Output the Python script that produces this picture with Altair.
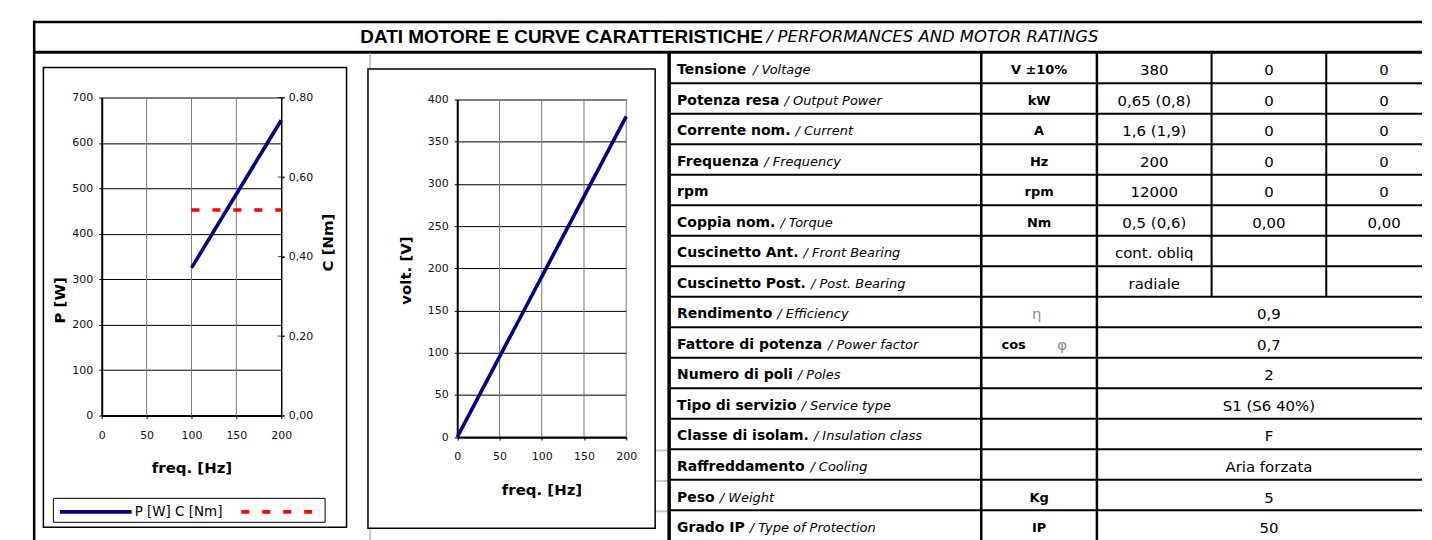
import altair as alt
import pandas as pd

# ------------------------------------------------------------------ data
P_FREQ = [100, 200]          # Hz
P_WATT = [325, 650]          # W
C_FREQ = [100, 200]          # Hz
C_NM = [0.517, 0.517]        # Nm
V_FREQ = [0, 200]            # Hz
V_VOLT = [0, 380]            # V

FREQ_TICKS = [0, 50, 100, 150, 200]
P_TICKS = [0, 100, 200, 300, 400, 500, 600, 700]
C_TICKS = [0.0, 0.2, 0.4, 0.6, 0.8]
V_TICKS = [0, 50, 100, 150, 200, 250, 300, 350, 400]

SERIES_NAMES = ["P [W]", "C [Nm]"]
T_FREQ = "freq. [Hz]"
T_P = "P [W]"
T_C = "C [Nm]"
T_V = "volt. [V]"

TITLE_IT = "DATI MOTORE E CURVE CARATTERISTICHE"
TITLE_EN = "/ PERFORMANCES AND MOTOR RATINGS"

LABEL_IT = ["Tensione", "Potenza resa", "Corrente nom.", "Frequenza", "rpm",
            "Coppia nom.", "Cuscinetto Ant.", "Cuscinetto Post.", "Rendimento",
            "Fattore di potenza", "Numero di poli", "Tipo di servizio",
            "Classe di isolam.", "Raffreddamento", "Peso", "Grado IP"]
LABEL_EN = ["/ Voltage", "/ Output Power", "/ Current", "/ Frequency", "",
            "/ Torque", "/ Front Bearing", "/ Post. Bearing", "/ Efficiency",
            "/ Power factor", "/ Poles", "/ Service type", "/ Insulation class",
            "/ Cooling", "/ Weight", "/ Type of Protection"]
UNIT_BOLD = ["V ±10%", "kW", "A", "Hz", "rpm", "Nm", "", "", "", "cos",
             "", "", "", "", "Kg", "IP"]
UNIT_SYMBOL = ["", "", "", "", "", "", "", "", "η", "φ",
               "", "", "", "", "", ""]
VAL_1 = ["380", "0,65 (0,8)", "1,6 (1,9)", "200", "12000", "0,5 (0,6)",
         "cont. obliq", "radiale"]
VAL_2 = ["0", "0", "0", "0", "0", "0,00", "", ""]
VAL_3 = ["0", "0", "0", "0", "0", "0,00", "", ""]
VAL_MERGED = ["0,9", "0,7", "2", "S1 (S6 40%)", "F", "Aria forzata", "5", "50"]

# ------------------------------------------------------------------ layout
H = 522
WL, WM, WT = 326, 305, 762
FONT = "DejaVu Sans"
NAVY = "#000080"
RED = "#ff0000"
GRID_V = "#7a7a7a"
ONE = pd.DataFrame({"k": [0]})

# DejaVu Sans Bold advance widths (em) used to place the italic half of labels
W_BOLD = {' ': .348, 'a': .675, 'b': .716, 'c': .593, 'd': .716, 'e': .678,
          'f': .435, 'g': .716, 'h': .712, 'i': .343, 'l': .343, 'm': 1.042,
          'n': .712, 'o': .687, 'p': .716, 'r': .493, 's': .595, 't': .478,
          'u': .712, 'v': .652, 'z': .582, 'A': .774, 'C': .734,
          'F': .683, 'G': .821, 'I': .372, 'N': .837, 'P': .733, 'R': .770,
          'T': .682, '.': .380}


def text_w(s, size):
    return sum(W_BOLD.get(ch, .68) for ch in s) * size


def hrule(x1, x2, y, w, color="black"):
    return alt.Chart(ONE).mark_rule(color=color, strokeWidth=w).encode(
        x=alt.value(x1), x2=alt.value(x2), y=alt.value(y))


def vrule(x, y1, y2, w, color="black"):
    return alt.Chart(ONE).mark_rule(color=color, strokeWidth=w).encode(
        x=alt.value(x), y=alt.value(y1), y2=alt.value(y2))


def box(x1, x2, y1, y2, w=1.5):
    return alt.Chart(ONE).mark_rect(filled=False, color="black", strokeWidth=w).encode(
        x=alt.value(x1), x2=alt.value(x2), y=alt.value(y1), y2=alt.value(y2))


def frame(width):
    return [hrule(0, width, 1.25, 2.5), hrule(0, width, 31.5, 3)]


AX = dict(labelFont=FONT, labelFontSize=11, labelColor="#111111",
          titleFont=FONT, titleFontSize=15, titleFontWeight="bold",
          titleColor="black", tickSize=3, tickColor="black",
          domainColor="black", labelFlush=False, labelOverlap=False)

comma2 = "replace(format(datum.value, '.2f'), '.', ',')"

# ------------------------------------------------------------------ panel L
xL = alt.Scale(domain=[0, 200], range=[69, 249], nice=False, zero=False)
yP = alt.Scale(domain=[0, 700], range=[396, 77], nice=False)
yC = alt.Scale(domain=[0, 0.8], range=[396, 77], nice=False)

x_axis_L = alt.Axis(values=FREQ_TICKS, orient="bottom", offset=396 - H,
                    title=T_FREQ, titleX=159, titleY=52, titleBaseline="middle",
                    grid=False, domainWidth=2, labelPadding=11, **AX)
y_axis_P = alt.Axis(values=P_TICKS, orient="left", offset=-69, title=T_P,
                    titleX=-42, titleY=280, titleAngle=270, titleBaseline="middle",
                    grid=True, gridColor="black", domainWidth=2, labelPadding=6, **AX)
y_axis_C = alt.Axis(values=C_TICKS, orient="right", offset=249 - WL, title=T_C,
                    titleX=46, titleY=222, titleAngle=270, titleBaseline="middle",
                    grid=False, domainWidth=1.5, labelPadding=4, labelExpr=comma2, **AX)

p_df = pd.DataFrame({"f": P_FREQ, "v": P_WATT})
c_df = pd.DataFrame({"f": C_FREQ, "v": C_NM})
gL_df = pd.DataFrame({"f": FREQ_TICKS[1:-1], "v": P_TICKS[0], "v2": P_TICKS[-1]})
cT_df = pd.DataFrame({"f": FREQ_TICKS[-1], "v": C_TICKS})

# vertical grid lines (share the power layer's y scale)
grid_L = alt.Chart(gL_df).mark_rule(color=GRID_V, strokeWidth=1).encode(
    x=alt.X("f:Q", scale=xL, axis=x_axis_L),
    y=alt.Y("v:Q", scale=yP, axis=y_axis_P), y2="v2:Q")

p_line = alt.Chart(p_df).mark_line(color=NAVY, strokeWidth=3.6).encode(
    x=alt.X("f:Q", scale=xL, axis=x_axis_L),
    y=alt.Y("v:Q", scale=yP, axis=y_axis_P))

c_line = alt.Chart(c_df).mark_line(color=RED, strokeWidth=3.6,
                                   strokeDash=[8, 13]).encode(
    x=alt.X("f:Q", scale=xL, axis=x_axis_L),
    y=alt.Y("v:Q", scale=yC, axis=y_axis_C))

# crossing tick marks on the secondary axis
c_ticks = alt.Chart(cT_df).mark_tick(color="black", orient="horizontal",
                                     size=7, thickness=1).encode(
    x=alt.X("f:Q", scale=xL, axis=x_axis_L),
    y=alt.Y("v:Q", scale=yC, axis=y_axis_C))

p_layer = alt.layer(grid_L, p_line)
c_layer = alt.layer(c_line, c_ticks)

legend_txt = alt.Chart(ONE).mark_text(
    text=" ".join(SERIES_NAMES), font=FONT, fontSize=13.5, align="left",
    baseline="middle", color="black").encode(x=alt.value(102), y=alt.value(492.5))

panel_L = alt.layer(
    *frame(WL),
    vrule(1.25, 0, H, 2.5),
    box(10.5, 314.5, 47, 508),
    p_layer, c_layer,
    box(20.5, 293, 479, 503, 1),
    hrule(27, 99, 492.5, 3.6, NAVY),
    alt.Chart(ONE).mark_rule(color=RED, strokeWidth=3.6, strokeDash=[8, 13]).encode(
        x=alt.value(209), x2=alt.value(280), y=alt.value(492.5)),
    legend_txt,
).resolve_scale(y="independent").properties(width=WL, height=H)

# ------------------------------------------------------------------ panel M
xM = alt.Scale(domain=[0, 200], range=[99.5, 269], nice=False, zero=False)
yV = alt.Scale(domain=[0, 400], range=[417.5, 79], nice=False)
v_df = pd.DataFrame({"f": V_FREQ, "v": V_VOLT})
gM_df = pd.DataFrame({"f": FREQ_TICKS[1:], "v": V_TICKS[0], "v2": V_TICKS[-1]})

x_axis_M = alt.Axis(values=FREQ_TICKS, orient="bottom", offset=417.5 - H,
                    title=T_FREQ, titleX=184, titleY=52.5, titleBaseline="middle",
                    grid=False, domainWidth=2, labelPadding=11, **AX)
y_axis_V = alt.Axis(values=V_TICKS, orient="left", offset=-99.5, title=T_V,
                    titleX=-51.5, titleY=250, titleAngle=270, titleBaseline="middle",
                    grid=True, gridColor="black", domainWidth=2, labelPadding=6, **AX)

grid_M = alt.Chart(gM_df).mark_rule(color=GRID_V, strokeWidth=1).encode(
    x=alt.X("f:Q", scale=xM, axis=x_axis_M),
    y=alt.Y("v:Q", scale=yV, axis=y_axis_V), y2="v2:Q")

v_line = alt.Chart(v_df).mark_line(color=NAVY, strokeWidth=3.6).encode(
    x=alt.X("f:Q", scale=xM, axis=x_axis_M),
    y=alt.Y("v:Q", scale=yV, axis=y_axis_V))

title_bold = alt.Chart(ONE).mark_text(
    text=TITLE_IT, font="Liberation Sans", fontSize=19, fontWeight="bold",
    align="right", baseline="middle", color="black").encode(
    x=alt.value(406), y=alt.value(16))
title_it = alt.Chart(ONE).mark_text(
    text=TITLE_EN, font=FONT, fontSize=16.5, fontStyle="italic",
    align="left", baseline="middle", color="black").encode(
    x=alt.value(410), y=alt.value(16.5))

panel_M = alt.layer(
    *frame(WM),
    vrule(12, 33, 48.5, 2, "#c8c8c8"),
    hrule(298, WM, 431, 2, "#c8c8c8"),
    hrule(298, WM, 461.5, 2, "#c8c8c8"),
    hrule(298, WM, 492, 2, "#c8c8c8"),
    vrule(12, 509.5, H, 2, "#c8c8c8"),
    box(10, 298, 48.5, 509),
    grid_M, v_line,
    title_bold, title_it,
).properties(width=WM, height=H)

# ------------------------------------------------------------------ panel T
COL_EDGES = [7, 320, 436, 551, 666, 782]
ROW_PITCH = 30.6
xT = alt.Scale(domain=[0, 1, 2, 3, 4, 5], range=COL_EDGES, nice=False, zero=False)
yT = alt.Scale(domain=[0, 16], range=[32, 32 + 16 * ROW_PITCH], nice=False, zero=False)
COL0_W = COL_EDGES[1] - COL_EDGES[0]
LAB_FS = 14

recs = []
for i in range(16):
    it_off = 8 + text_w(LABEL_IT[i], LAB_FS) + 5
    has_sym = UNIT_SYMBOL[i] != ""
    has_bold = UNIT_BOLD[i] != ""
    recs.append(dict(
        y=i + 0.58, it=LABEL_IT[i], en=LABEL_EN[i], x_en=it_off / COL0_W,
        ub=UNIT_BOLD[i], x_ub=1.28 if has_sym else 1.5,
        us=UNIT_SYMBOL[i], x_us=1.70 if has_bold else 1.48))
tdf = pd.DataFrame(recs)

vals = []
for i in range(8):
    vals += [dict(y=i + 0.58, x=2.5, t=VAL_1[i]),
             dict(y=i + 0.58, x=3.5, t=VAL_2[i]),
             dict(y=i + 0.58, x=4.5, t=VAL_3[i])]
for j, t in enumerate(VAL_MERGED):
    vals.append(dict(y=8 + j + 0.58, x=3.5, t=t))
vdf = pd.DataFrame(vals)

hl = pd.DataFrame({"r": list(range(1, 16)), "c0": 0, "c1": 5})
vl = pd.DataFrame({"c": [0, 1, 2, 3, 4], "r0": [0, 0, 0, 0, 0],
                   "r1": [16, 16, 16, 8, 8], "w": [3.5, 2.5, 2.5, 2, 2]})


def X(f):
    return alt.X(f, scale=xT, axis=None)


def Y(f):
    return alt.Y(f, scale=yT, axis=None)


t_lab = alt.Chart(tdf).mark_text(font=FONT, fontSize=LAB_FS, fontWeight="bold",
                                 align="left", baseline="middle", dx=8,
                                 color="black").encode(
    x=X("zero:Q"), y=Y("y:Q"), text="it:N"
).transform_calculate(zero="0")
t_en = alt.Chart(tdf).mark_text(font=FONT, fontSize=13, fontStyle="italic",
                                align="left", baseline="middle",
                                color="black").encode(
    x=X("x_en:Q"), y=Y("y:Q"), text="en:N")
t_ub = alt.Chart(tdf).mark_text(font=FONT, fontSize=13, fontWeight="bold",
                                align="center", baseline="middle",
                                color="black").encode(
    x=X("x_ub:Q"), y=Y("y:Q"), text="ub:N")
t_us = alt.Chart(tdf).mark_text(font=FONT, fontSize=15, align="center",
                                baseline="middle", color="#8c8c8c").encode(
    x=X("x_us:Q"), y=Y("y:Q"), text="us:N")
t_val = alt.Chart(vdf).mark_text(font=FONT, fontSize=15, align="center",
                                 baseline="middle", color="black").encode(
    x=X("x:Q"), y=Y("y:Q"), text="t:N")

h_lines = alt.Chart(hl).mark_rule(color="black", strokeWidth=2, clip=True).encode(
    x=X("c0:Q"), x2="c1:Q", y=Y("r:Q"))
v_lines = alt.Chart(vl).mark_rule(color="black", clip=True).encode(
    x=X("c:Q"), y=Y("r0:Q"), y2="r1:Q",
    strokeWidth=alt.StrokeWidth("w:Q", scale=None))

panel_T = alt.layer(
    *frame(WT),
    hrule(0, 7, 431, 2, "#c8c8c8"),
    hrule(0, 7, 461.5, 2, "#c8c8c8"),
    hrule(0, 7, 492, 2, "#c8c8c8"),
    h_lines, v_lines,
    t_lab, t_en, t_ub, t_us, t_val,
).properties(width=WT, height=H)

chart = alt.hconcat(panel_L, panel_M, panel_T, spacing=0, bounds="flush").properties(
    padding={"left": 23, "top": 10, "right": 0, "bottom": 0}
).configure_view(stroke=None)

chart.save("out.html", embed_options={"renderer": "svg", "actions": False})
